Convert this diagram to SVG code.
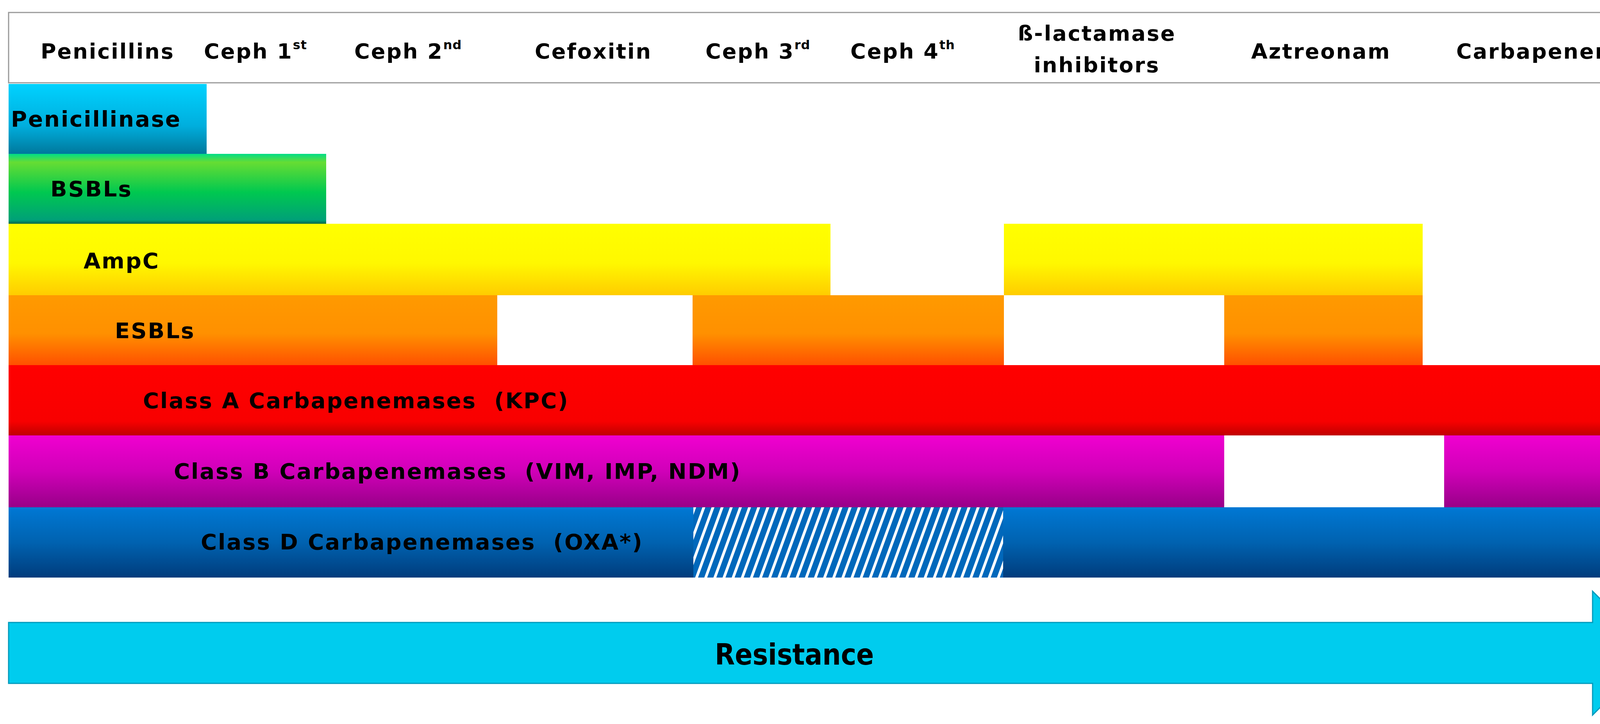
<svg xmlns="http://www.w3.org/2000/svg" width="4310" height="1854" viewBox="0 0 4310 1854">
<style>
.h{font-family:"DejaVu Sans",sans-serif;font-weight:bold;font-size:54px;letter-spacing:3px;fill:#000}
.l{font-family:"DejaVu Sans",sans-serif;font-weight:bold;font-size:56px;letter-spacing:3px;fill:#000;white-space:pre}
.r{font-family:"DejaVu Sans Condensed","DejaVu Sans",sans-serif;font-weight:bold;font-size:74px;fill:#000}
.sup{font-size:32px;letter-spacing:1px}
</style>
<defs>
<linearGradient id="gP" x1="0" y1="0" x2="0" y2="1"><stop offset="0" stop-color="#00d2ff"/><stop offset="0.6" stop-color="#00aedd"/><stop offset="1" stop-color="#00789c"/></linearGradient>
<linearGradient id="gB" x1="0" y1="0" x2="0" y2="1"><stop offset="0" stop-color="#00dd88"/><stop offset="0.12" stop-color="#66dd33"/><stop offset="0.55" stop-color="#00c850"/><stop offset="0.95" stop-color="#00a078"/><stop offset="1" stop-color="#006644"/></linearGradient>
<linearGradient id="gA" x1="0" y1="0" x2="0" y2="1"><stop offset="0" stop-color="#ffff00"/><stop offset="0.55" stop-color="#fff800"/><stop offset="1" stop-color="#ffcc00"/></linearGradient>
<linearGradient id="gE" x1="0" y1="0" x2="0" y2="1"><stop offset="0" stop-color="#ff9a00"/><stop offset="0.55" stop-color="#ff9000"/><stop offset="1" stop-color="#ff5000"/></linearGradient>
<linearGradient id="gCA" x1="0" y1="0" x2="0" y2="1"><stop offset="0" stop-color="#ff0000"/><stop offset="0.8" stop-color="#f80000"/><stop offset="1" stop-color="#c00000"/></linearGradient>
<linearGradient id="gCB" x1="0" y1="0" x2="0" y2="1"><stop offset="0" stop-color="#f000d0"/><stop offset="0.5" stop-color="#d000b8"/><stop offset="1" stop-color="#980088"/></linearGradient>
<linearGradient id="gCD" x1="0" y1="0" x2="0" y2="1"><stop offset="0" stop-color="#0078d4"/><stop offset="0.5" stop-color="#0062b0"/><stop offset="1" stop-color="#003c7c"/></linearGradient>
<pattern id="hatch" width="22" height="22" patternUnits="userSpaceOnUse" patternTransform="rotate(20)">
<rect width="22" height="22" fill="#0068bb"/><rect width="7" height="22" fill="#ffffff"/>
</pattern>
</defs>
<g id="header">
<rect x="22" y="32" width="4240" height="180" fill="#fff" stroke="#999" stroke-width="3"/>
<text class="h" x="104" y="150">Penicillins</text>
<text class="h" x="522" y="150">Ceph 1<tspan class="sup" dy="-24">st</tspan></text>
<text class="h" x="907" y="150">Ceph 2<tspan class="sup" dy="-24">nd</tspan></text>
<text class="h" x="1369" y="150">Cefoxitin</text>
<text class="h" x="1806" y="150">Ceph 3<tspan class="sup" dy="-24">rd</tspan></text>
<text class="h" x="2177" y="150">Ceph 4<tspan class="sup" dy="-24">th</tspan></text>
<text class="h" x="2808" y="104" text-anchor="middle">ß-lactamase</text>
<text class="h" x="2808" y="185" text-anchor="middle">inhibitors</text>
<text class="h" x="3203" y="150">Aztreonam</text>
<text class="h" x="3728" y="150">Carbapenems</text>
</g>
<g id="penicillinase"><rect x="22" y="215" width="507" height="179" fill="url(#gP)"/><text class="l" x="28" y="324">Penicillinase</text></g>
<g id="bsbls"><rect x="22" y="394" width="813" height="179" fill="url(#gB)"/><text class="l" x="129" y="503">BSBLs</text></g>
<g id="ampc"><rect x="22" y="573" width="2104" height="183" fill="url(#gA)"/><rect x="2570" y="573" width="1072" height="183" fill="url(#gA)"/><text class="l" x="214" y="687">AmpC</text></g>
<g id="esbls"><rect x="22" y="756" width="1251" height="179" fill="url(#gE)"/><rect x="1773" y="756" width="797" height="179" fill="url(#gE)"/><rect x="3134" y="756" width="508" height="179" fill="url(#gE)"/><text class="l" x="294" y="866">ESBLs</text></g>
<g id="classA"><rect x="22" y="935" width="4245" height="180" fill="url(#gCA)"/><text class="l" x="366" y="1045">Class A Carbapenemases  (KPC)</text></g>
<g id="classB"><rect x="22" y="1115" width="3112" height="184" fill="url(#gCB)"/><rect x="3697" y="1115" width="570" height="184" fill="url(#gCB)"/><text class="l" x="445" y="1226">Class B Carbapenemases  (VIM, IMP, NDM)</text></g>
<g id="classD"><rect x="22" y="1299" width="4245" height="180" fill="url(#gCD)"/><rect x="1775" y="1299" width="793" height="180" fill="url(#hatch)"/><text class="l" x="514" y="1407">Class D Carbapenemases  (OXA*)</text></g>
<g id="resistance">
<polygon points="22,1594 4077,1594 4077,1514 4235,1672 4077,1831 4077,1750 22,1750" fill="#00ccee" stroke="#0099bb" stroke-width="3"/>
<text class="r" x="1830" y="1702">Resistance</text>
</g>
</svg>
